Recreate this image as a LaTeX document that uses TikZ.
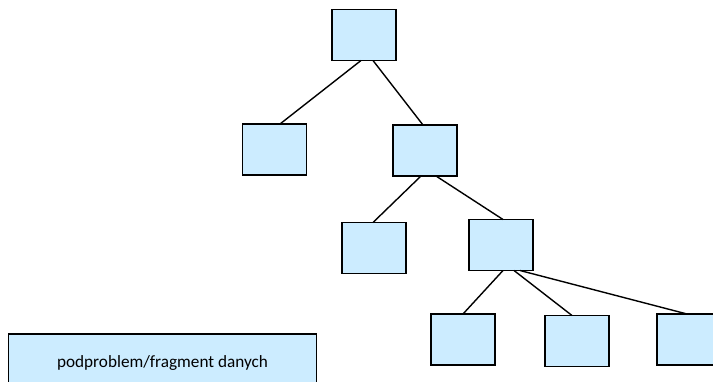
\documentclass[tikz,border=0pt]{standalone}
\usepackage{fontspec}
\setmainfont{Carlito}
\usetikzlibrary{calc}
\definecolor{boxfill}{RGB}{204,236,255}
\begin{document}
\begin{tikzpicture}[x=1pt,y=-1pt,
  tbox/.style={draw=black,fill=boxfill,line width=1.7pt,minimum width=64pt,minimum height=51pt,inner sep=0pt,outer sep=0pt},
  edge/.style={draw=black,line width=1.4pt}]
\useasboundingbox (0,0) rectangle (713,382);
\clip (0,0) rectangle (713,382);
\fill[white] (0,0) rectangle (713,382);
% edges first (behind boxes)
\node[tbox] (root) at (364,35) {};
\node[tbox] (l) at (274.5,149.5) {};
\node[tbox] (r) at (425,150.5) {};
\node[tbox] (rl) at (374,248) {};
\node[tbox] (rr) at (501,245) {};
\node[tbox] (a) at (463,339.5) {};
\node[tbox] (b) at (577,341) {};
\node[tbox] (c) at (689,339.5) {};
\node[tbox,minimum width=308pt,minimum height=60pt,anchor=north west,
      font=\fontsize{17.2}{20}\selectfont,text height=12pt,text depth=4pt]
  (legend) at (8.5,334) {};
\node[font=\fontsize{17.2}{20}\selectfont,anchor=base] (legtext) at (162.5,367.5) {podproblem/fragment danych};
\draw[edge] ([xshift=-3pt]root.south) -- ([xshift=5.5pt]l.north);
\draw[edge] ([xshift=9pt]root.south) -- ([xshift=-2pt]r.north);
\draw[edge] ([xshift=-4pt]r.south) -- ([xshift=-1pt]rl.north);
\draw[edge] ([xshift=11pt]r.south) -- ([xshift=2pt]rr.north);
\draw[edge] ([xshift=2pt]rr.south) -- (a.north);
\draw[edge] ([xshift=13pt]rr.south) -- ([xshift=-5pt]b.north);
\draw[edge] ([xshift=19pt]rr.south) -- ([xshift=-2pt]c.north);
\end{tikzpicture}
\end{document}
